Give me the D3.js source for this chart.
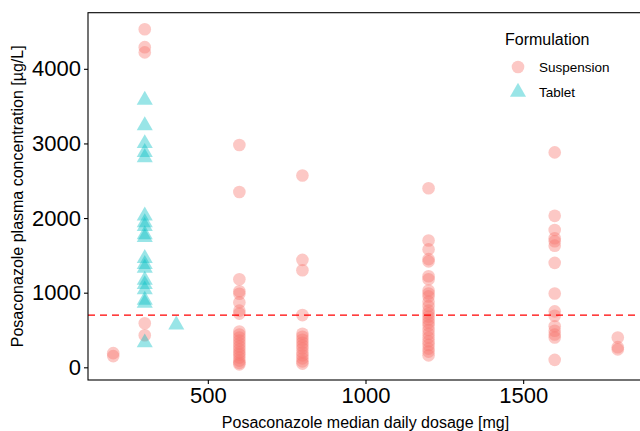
<!DOCTYPE html>
<html lang="en">

<head>
  <meta charset="utf-8">
  <title>Posaconazole dosage vs concentration</title>
  <script src="https://d3js.org/d3.v7.min.js"></script>
</head>

<body style="margin:0; background:#fff;">
  <div id="chart"></div>

  <style>
    #chart text {
      font-family: "Liberation Sans", Arial, sans-serif;
      fill: #000;
    }
  </style>

  <script type="text/javascript">
    "use strict"

    // concentrations [ug/L] per median daily dose
    var susp200 = [190, 150];
    var susp300 = [4530, 4290, 4220, 590, 430];
    var susp600 = [2980, 2350, 1180, 1020, 985, 870, 760, 720, 480, 440, 400, 360, 320, 280, 240, 200, 170, 130, 90, 60, 40];
    var susp800 = [2570, 1440, 1300, 700, 450, 410, 370, 330, 290, 250, 200, 160, 120, 80, 50];
    var susp1200 = [2400, 1700, 1580, 1450, 1420, 1220, 1180, 1030, 990, 950, 880, 820, 760, 720, 680, 640, 600, 560, 500, 450, 400, 350, 300, 250, 210, 160];
    var susp1600 = [2880, 2030, 1840, 1730, 1690, 1630, 1400, 990, 750, 690, 550, 490, 440, 400, 100];
    var susp1800 = [400, 270, 240];

    var tab300 = [3580, 3240, 3000, 2880, 2810, 2030, 1940, 1890, 1780, 1740, 1460, 1380, 1330, 1170, 1110, 1040, 900, 860, 330];
    var tab400 = [570];

    var xTicks = [500, 1000, 1500];
    var yTicks = [0, 1000, 2000, 3000, 4000];
    var threshold = 700;

    var larguraSVG = 640,
        alturaSVG = 431;

    function toRows(dose, values, form) {
      return values.map(function(v) { return { dose: dose, conc: v, form: form }; });
    }

    var dados = [].concat(
      toRows(200, susp200, 'Suspension'),
      toRows(300, susp300, 'Suspension'),
      toRows(600, susp600, 'Suspension'),
      toRows(800, susp800, 'Suspension'),
      toRows(1200, susp1200, 'Suspension'),
      toRows(1600, susp1600, 'Suspension'),
      toRows(1800, susp1800, 'Suspension'),
      toRows(300, tab300, 'Tablet'),
      toRows(400, tab400, 'Tablet')
    );

    var cores = { Suspension: '#F8766D', Tablet: '#00BFC4' };

    var esq = 88, dir = 643, topo = 12.7, base = 380;

    var svg = d3.select('#chart')
                .append('svg')
                  .attr('width', larguraSVG)
                  .attr('height', alturaSVG);

    var x = d3.scaleLinear().domain([120, 1880]).range([esq, dir]);
    var y = d3.scaleLinear().domain([-170, 4752]).range([base, topo]);

    var circulo = d3.symbol().type(d3.symbolCircle).size(125);
    var triangulo = d3.symbol().type(d3.symbolTriangle).size(112);

    // points
    svg.append('g')
       .selectAll('path')
       .data(dados)
       .enter()
       .append('path')
         .attr('d', function(d) { return d.form == 'Tablet' ? triangulo() : circulo(); })
         .attr('transform', function(d) { return 'translate(' + x(d.dose) + ',' + y(d.conc) + ')'; })
         .style('fill', function(d) { return cores[d.form]; })
         .style('fill-opacity', 0.4);

    // threshold line
    svg.append('line')
       .attr('x1', esq).attr('x2', dir)
       .attr('y1', y(threshold)).attr('y2', y(threshold))
       .style('stroke', '#FF0000')
       .style('stroke-width', 1.4)
       .style('stroke-dasharray', '7,5');

    // panel border
    svg.append('rect')
       .attr('x', esq).attr('y', topo)
       .attr('width', dir - esq).attr('height', base - topo)
       .style('fill', 'none')
       .style('stroke', '#000')
       .style('stroke-width', 1.1);

    // axes
    var eixoX = svg.append('g')
       .attr('transform', 'translate(0,' + base + ')')
       .call(d3.axisBottom(x).tickValues(xTicks).tickSize(4).tickPadding(3).tickFormat(d3.format('d')));

    var eixoY = svg.append('g')
       .attr('transform', 'translate(' + esq + ',0)')
       .call(d3.axisLeft(y).tickValues(yTicks).tickSize(4).tickPadding(3).tickFormat(d3.format('d')));

    [eixoX, eixoY].forEach(function(g) {
      g.select('.domain').remove();
      g.selectAll('line').style('stroke', '#000').style('stroke-width', 1.1);
      g.selectAll('text').style('font-size', '22px').style('fill', '#000');
    });

    // axis titles
    svg.append('text')
       .attr('x', (esq + dir) / 2)
       .attr('y', 428)
       .attr('text-anchor', 'middle')
       .style('font-size', '16px')
       .text('Posaconazole median daily dosage [mg]');

    svg.append('text')
       .attr('transform', 'translate(23,' + ((topo + base) / 2) + ') rotate(-90)')
       .attr('text-anchor', 'middle')
       .style('font-size', '16px')
       .text('Posaconazole plasma concentration [µg/L]');

    // legend
    var legenda = svg.append('g');

    legenda.append('text')
       .attr('x', 505)
       .attr('y', 45)
       .style('font-size', '16px')
       .text('Formulation');

    var itens = legenda.selectAll('g.item')
       .data(['Suspension', 'Tablet'])
       .enter()
       .append('g')
         .attr('class', 'item')
         .attr('transform', function(d, i) { return 'translate(518,' + (67 + i * 25) + ')'; });

    itens.append('path')
       .attr('d', function(d) { return d == 'Tablet' ? triangulo() : circulo(); })
       .style('fill', function(d) { return cores[d]; })
       .style('fill-opacity', 0.4);

    itens.append('text')
       .attr('x', 21)
       .attr('y', 5)
       .style('font-size', '13.5px')
       .text(function(d) { return d; });
  </script>
</body>

</html>
